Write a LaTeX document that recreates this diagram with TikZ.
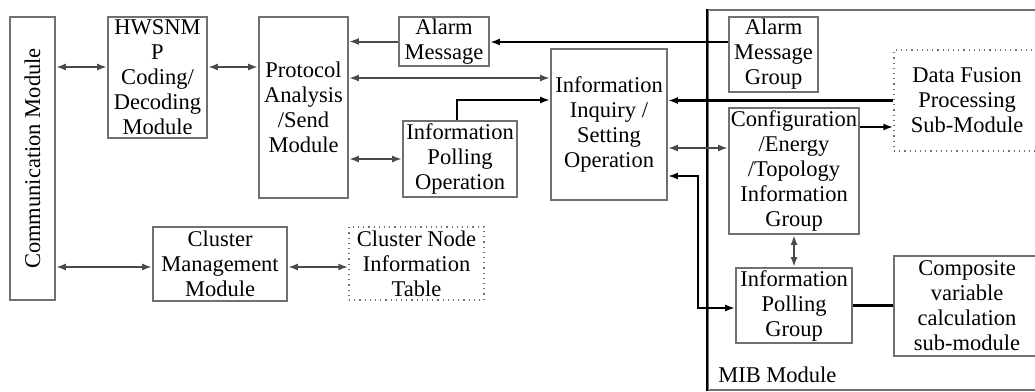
\documentclass[tikz,border=0pt]{standalone}
\usepackage{fontspec}
\setmainfont{Liberation Serif}
\usepackage{graphicx}
\usetikzlibrary{arrows.meta}
\definecolor{boxgray}{HTML}{707070}
\definecolor{linkgray}{HTML}{4A4A4A}

\begin{document}
\begin{tikzpicture}
[x=1pt,y=-1pt,
font=\fontsize{22.5}{25}\selectfont,
wh/.style 2 args={minimum width=#1pt,minimum height=#2pt},
box/.style={draw=boxgray,line width=1.7pt,align=center,inner sep=0pt},
dotbox/.style={draw=boxgray,line width=1.3pt,dash pattern=on 1.2pt off 4pt,align=center,inner sep=0pt},
link/.style={draw=linkgray,line width=2pt,{Latex[length=10pt,width=7pt]}-{Latex[length=10pt,width=7pt]}},
tolink/.style={draw=linkgray,line width=2pt,-{Latex[length=10pt,width=7pt]}},
strong/.style={draw=black,line width=2.4pt,-{Latex[length=10pt,width=7pt]}},
strongboth/.style={draw=black,line width=2.4pt,{Latex[length=10pt,width=7pt]}-{Latex[length=10pt,width=7pt]}}]
\useasboundingbox (0,0) rectangle (1035,391);
\clip (0,0) rectangle (1035,391);
% MIB frame
\node[draw=boxgray,line width=1.8pt,wh={342}{380},inner sep=0pt] (mib) at (879,200) {};
\draw[line width=2.4pt] (mib.north west) -- (mib.south west);
\node[anchor=base west,inner sep=0pt] (mibl) at ([xshift=11pt,yshift=8pt]mib.south west) {MIB Module};
% left side
\node[box,wh={45}{283}] (comm) at (32.5,158.5) {\rotatebox{90}{Communication Module}};
\node[box,wh={99}{121}] (hw) at (157.5,77.5) {HWSNM\\P\\Coding/\\Decoding\\Module};
\node[box,wh={89}{181}] (pa) at (303.5,107.5) {Protocol\\Analysis\\/Send\\Module};
\node[box,wh={90}{49}] (am) at (444,41.5) {Alarm\\Message};
\node[box,wh={114}{76}] (ipo) at (460,159) {Information\\Polling\\Operation};
\node[box,wh={116}{151}] (iq) at (609,124.5) {Information\\Inquiry /\\Setting\\Operation};
\node[box,wh={134}{74}] (cm) at (220,264) {Cluster\\Management\\Module};
\node[dotbox,wh={135}{73}] (cnt) at (416.5,263.5) {Cluster Node\\Information\\Table};
% inside MIB
\node[box,wh={89}{75}] (amg) at (773.5,54.5) {Alarm\\Message\\Group};
\node[dotbox,wh={146}{101}] (df) at (967,100.5) {Data Fusion\\Processing\\Sub-Module};
\node[box,wh={130}{126}] (cfg) at (794,171) {Configuration\\/Energy\\/Topology\\Information\\Group};
\node[box,wh={116}{75}] (ipg) at (794,305.5) {Information\\Polling\\Group};
\node[box,wh={146}{100}] (cvc) at (967,306) {Composite\\variable\\calculation\\sub-module};
% connectors
\draw[link] ([yshift=10.5pt]hw.west) -- ([yshift=10.5pt]hw.west -| comm.east);
\draw[link] ([yshift=10.5pt]hw.east) -- ([yshift=10.5pt]hw.east -| pa.west);
\draw[tolink] (am.west) -- (am.west -| pa.east);
\draw[link] ([yshift=29.5pt]pa.east) -- ([yshift=29.5pt]pa.east -| iq.west);
\draw[link] (ipo.west) -- (ipo.west -| pa.east);
\draw[strong] ([yshift=12.5pt]amg.west) -- ([yshift=12.5pt]amg.west -| am.east);
\draw[strong] ([xshift=-3pt]ipo.north) |- ([yshift=24.5pt]iq.west);
\draw[strong] (df.west) -- (df.west -| iq.east);
\draw[link] ([yshift=23pt]cfg.west) -- ([yshift=23pt]cfg.west -| iq.east);
\draw[strongboth] ([yshift=-51.5pt]iq.east) -- ++(30,0) |- ([yshift=-2.5pt]ipg.west);
\draw[strong] ([yshift=44pt]cfg.east) -- ([yshift=44pt]cfg.east -| df.west);
\draw[link] (cfg.south) -- (ipg.north);
\draw[line width=2.4pt] (ipg.east) -- (ipg.east -| cvc.west);
\draw[link] ([yshift=-3pt]cm.west) -- ([yshift=-3pt]cm.west -| comm.east);
\draw[link] ([yshift=-3pt]cm.east) -- ([yshift=-3pt]cm.east -| cnt.west);
\end{tikzpicture}
\end{document}
